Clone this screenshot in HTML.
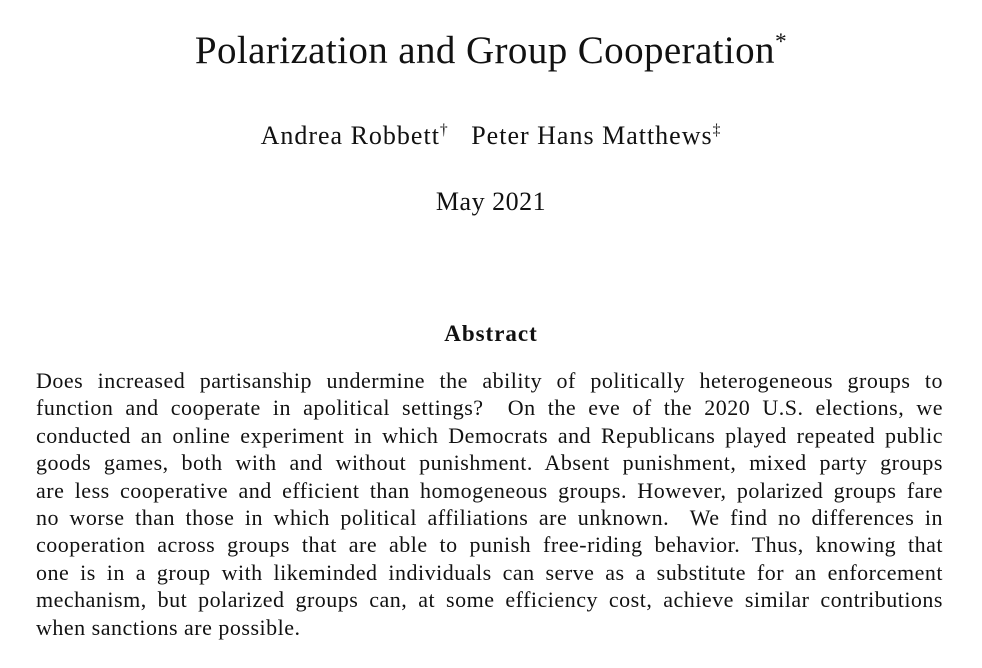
<!DOCTYPE html>
<html><head><meta charset="utf-8">
<style>
html,body{margin:0;padding:0;background:#fff;}
body{width:982px;height:668px;position:relative;overflow:hidden;font-family:"Liberation Serif",serif;color:#111;}
.c{position:absolute;left:0;width:982px;text-align:center;white-space:nowrap;}
#title{top:28px;font-size:39px;line-height:46px;letter-spacing:0.4px;}
#authors{top:121px;font-size:26px;line-height:30px;letter-spacing:1px;}
#date{top:187px;font-size:26px;line-height:30px;letter-spacing:0.5px;}
#abs-h{top:320px;font-size:23px;line-height:28px;font-weight:bold;letter-spacing:1px;}
#abstract{position:absolute;left:36px;width:907px;top:367px;font-size:22px;letter-spacing:0.5px;}
.l{height:27.4px;line-height:27.4px;text-align:justify;text-align-last:justify;white-space:nowrap;}
.l.last{text-align-last:left;}
sup{font-size:60%;line-height:0;}
</style></head>
<body>
<div id="title" class="c">Polarization and Group Cooperation<sup>*</sup></div>
<div id="authors" class="c">Andrea Robbett<sup>†</sup>&nbsp;&nbsp; Peter Hans Matthews<sup>‡</sup></div>
<div id="date" class="c">May 2021</div>
<div id="abs-h" class="c">Abstract</div>
<div id="abstract">
<div class="l">Does increased partisanship undermine the ability of politically heterogeneous groups to</div>
<div class="l">function and cooperate in apolitical settings?&nbsp; On the eve of the 2020 U.S. elections, we</div>
<div class="l">conducted an online experiment in which Democrats and Republicans played repeated public</div>
<div class="l">goods games, both with and without punishment. Absent punishment, mixed party groups</div>
<div class="l">are less cooperative and efficient than homogeneous groups. However, polarized groups fare</div>
<div class="l">no worse than those in which political affiliations are unknown.&nbsp; We find no differences in</div>
<div class="l">cooperation across groups that are able to punish free-riding behavior. Thus, knowing that</div>
<div class="l">one is in a group with likeminded individuals can serve as a substitute for an enforcement</div>
<div class="l">mechanism, but polarized groups can, at some efficiency cost, achieve similar contributions</div>
<div class="l last">when sanctions are possible.</div>
</div>
</body></html>
